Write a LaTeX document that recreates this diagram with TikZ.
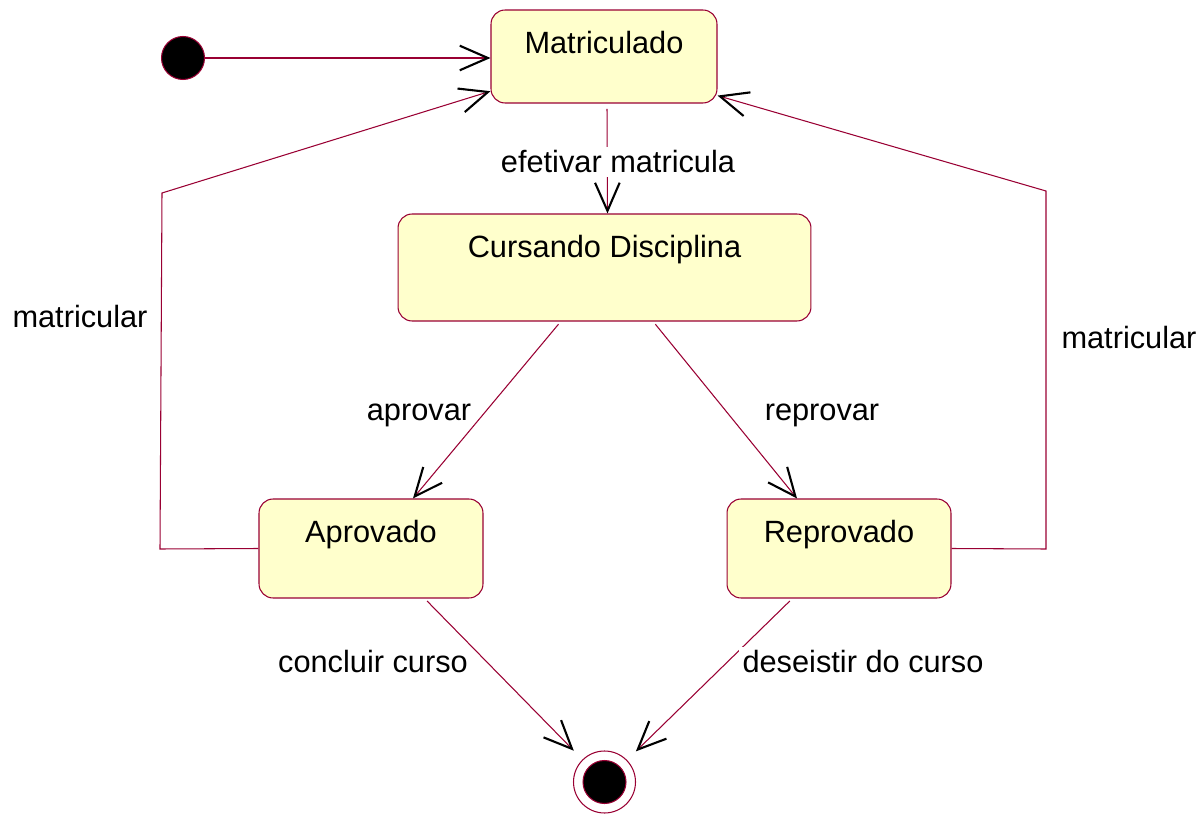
\documentclass[tikz,border=0pt]{standalone}
\usepackage{fontspec}
\setmainfont{Liberation Sans}
\usetikzlibrary{arrows.meta}
\definecolor{umlline}{RGB}{153,0,51}
\definecolor{umlfill}{RGB}{255,255,204}

\begin{document}
\begin{tikzpicture}[x=0.02cm,y=-0.02cm,font=\fontsize{17.5}{21}\selectfont,
  state/.style={draw=umlline,fill=umlfill,line width=0.6pt,rounded corners=8pt,inner sep=0pt},
  dot/.style={circle,fill=black,draw=umlline,line width=0.6pt,minimum size=0.86cm,inner sep=0pt},
  trans/.style={draw=umlline,line width=0.6pt,-{Straight Barb[length=16pt,width=14pt,line width=1.2pt,color=black]}},
  lbl/.style={fill=white,inner sep=2pt}]
  \useasboundingbox (0,0) rectangle (1201,814);
  \node[dot] (0) at (183,58) {};
  \node[state,minimum width=4.52cm,minimum height=1.86cm,label={[anchor=base,yshift=-25pt]north:Matriculado}] (1) at (604,56.5) {};
  \node[state,minimum width=8.26cm,minimum height=2.14cm,label={[anchor=base,yshift=-25pt]north:Cursando Disciplina}] (2) at (604.5,267.5) {};
  \node[state,minimum width=4.48cm,minimum height=1.98cm,label={[anchor=base,yshift=-25pt]north:Aprovado}] (3) at (371,548.5) {};
  \node[state,minimum width=4.48cm,minimum height=1.98cm,label={[anchor=base,yshift=-25pt]north:Reprovado}] (4) at (839,548.5) {};
  \node[circle,draw=umlline,fill=white,line width=0.6pt,minimum size=1.24cm,inner sep=0pt] (5) at (604.5,782) {};
  \node[dot] (6) at (5) {};
  % transicoes
  \draw[trans] (0) -- (0 -| 1.west);
  \draw[trans,shorten <=3pt] ([xshift=1.7pt]1.south) -- ([xshift=1.7pt]2.north);
  \draw[trans,shorten <=2pt] (2.231) -- (3.50);
  \draw[trans,shorten <=2pt] (2.312) -- (4.130);
  \draw[trans] (3.west) -- (160,549) -- (162,193) -- (1.197);
  \draw[trans] (4.east) -- (1046,549) -- (1046,191) -- (1.341);
  \draw[trans,shorten <=2pt,shorten >=7pt] (3.317) -- (5);
  \draw[trans,shorten <=2pt,shorten >=7pt] (4.227) -- (5);
  % rotulos
  \node[lbl] (e1) at (618,162) {efetivar matricula};
  \node (e2) at (419,415) {aprovar};
  \node (e3) at (822,415) {reprovar};
  \node (e4) at (80,317) {matricular};
  \node (e5) at (1129,338) {matricular};
  \node[lbl] (e6) at (373,662) {concluir curso};
  \node[lbl] (e7) at (863,662) {deseistir do curso};
\end{tikzpicture}
\end{document}
